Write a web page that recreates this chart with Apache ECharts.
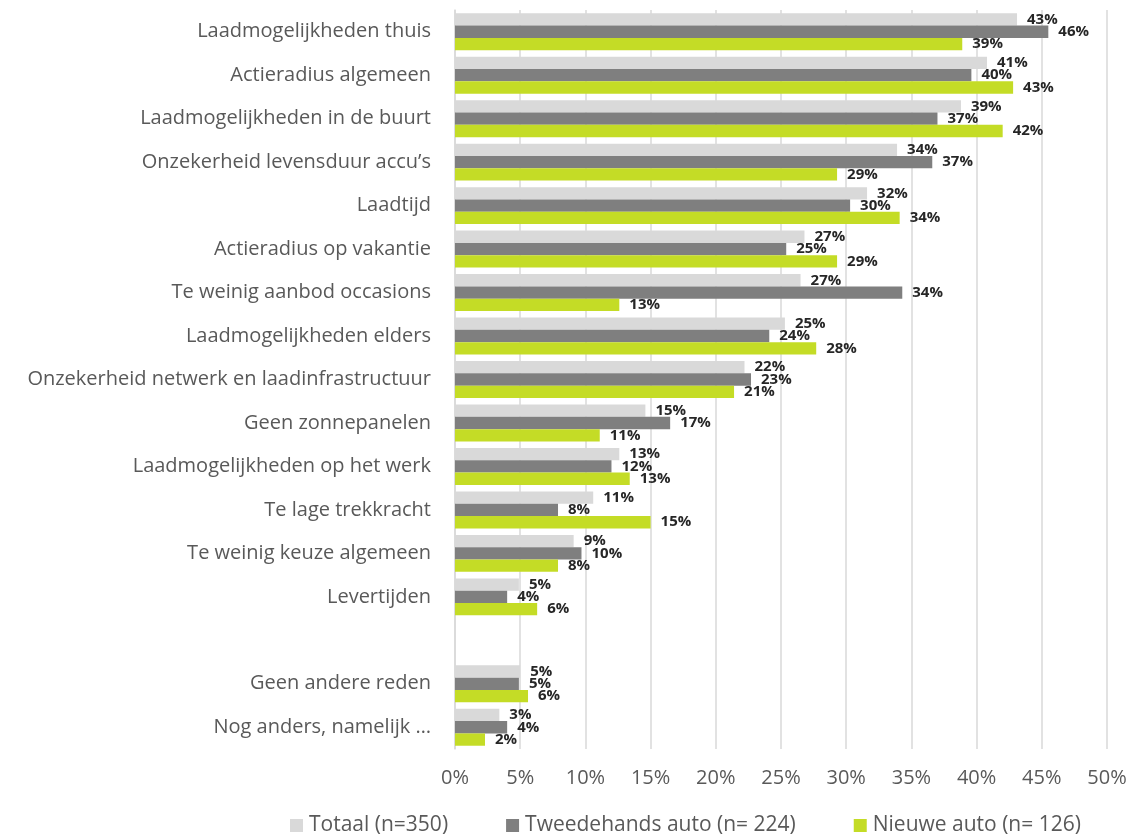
<!DOCTYPE html>
<html>
<head>
<meta charset="utf-8">
<script src="https://cdn.jsdelivr.net/npm/echarts@6/dist/echarts.min.js"></script>
<style>html,body{margin:0;padding:0;background:#fff;}#c{width:1132px;height:837px;}</style>
</head>
<body>
<div id="c"></div>
<script>
const categories = [
  'Laadmogelijkheden thuis',
  'Actieradius algemeen',
  'Laadmogelijkheden in de buurt',
  'Onzekerheid levensduur accu\u2019s',
  'Laadtijd',
  'Actieradius op vakantie',
  'Te weinig aanbod occasions',
  'Laadmogelijkheden elders',
  'Onzekerheid netwerk en laadinfrastructuur',
  'Geen zonnepanelen',
  'Laadmogelijkheden op het werk',
  'Te lage trekkracht',
  'Te weinig keuze algemeen',
  'Levertijden',
  '',
  'Geen andere reden',
  'Nog anders, namelijk \u2026'
];
const seriesNames = ['Totaal (n=350)', 'Tweedehands auto (n= 224)', 'Nieuwe auto (n= 126)'];
const totaal      = [43.1, 40.8, 38.8, 33.9, 31.6, 26.8, 26.5, 25.3, 22.2, 14.6, 12.6, 10.6, 9.1, 4.9, null, 5.0, 3.4];
const tweedehands = [45.5, 39.6, 37.0, 36.6, 30.3, 25.4, 34.3, 24.1, 22.7, 16.5, 12.0, 7.9, 9.7, 4.0, null, 4.9, 4.0];
const nieuwe      = [38.9, 42.8, 42.0, 29.3, 34.1, 29.3, 12.6, 27.7, 21.4, 11.1, 13.4, 15.0, 7.9, 6.3, null, 5.6, 2.3];
const xTicks = [0, 5, 10, 15, 20, 25, 30, 35, 40, 45, 50];
const colors = ['#d9d9d9', '#7f7f7f', '#c4dc26'];

const FONT = '"Open Sans", "Noto Sans", sans-serif';
const chart = echarts.init(document.getElementById('c'));
const lbl = {
  show: true, position: 'right', distance: 10,
  fontFamily: FONT, fontSize: 15, fontWeight: 'bold', color: '#262626',
  formatter: p => p.value == null ? '' : Math.round(p.value) + '%'
};
const mk = (name, data, i) => ({
  name, type: 'bar', data, barGap: '0%', barCategoryGap: '15%',
  itemStyle: { color: colors[i] }, label: lbl
});
chart.setOption({
  animation: false,
  textStyle: { fontFamily: FONT },
  grid: { left: 455, right: 25, top: 10, bottom: 88 },
  xAxis: {
    type: 'value', min: xTicks[0], max: xTicks[xTicks.length - 1], interval: 5,
    axisLine: { show: false }, axisTick: { show: false },
    splitLine: { lineStyle: { color: '#d9d9d9', width: 1.5 } },
    axisLabel: { formatter: '{value}%', fontFamily: FONT, fontSize: 20, color: '#595959', margin: 19 }
  },
  yAxis: {
    type: 'category', data: categories, inverse: true,
    axisLine: { show: true, lineStyle: { color: '#d9d9d9', width: 1.5 } },
    axisTick: { show: false },
    axisLabel: { fontFamily: FONT, fontSize: 20, color: '#595959', margin: 24 }
  },
  legend: {
    top: 810, left: 285, itemWidth: 13, itemHeight: 13, itemGap: 58,
    icon: 'rect',
    textStyle: { fontFamily: FONT, fontSize: 21, color: '#595959', padding: [0, 0, 0, 1] },
    data: seriesNames
  },
  series: [mk(seriesNames[0], totaal, 0), mk(seriesNames[1], tweedehands, 1), mk(seriesNames[2], nieuwe, 2)]
});
</script>
</body>
</html>
